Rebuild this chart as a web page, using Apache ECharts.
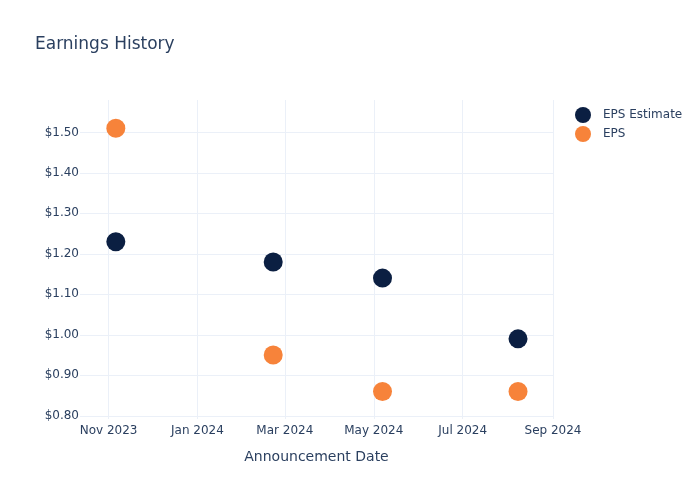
<!DOCTYPE html>
<html>
<head>
<meta charset="utf-8">
<script src="https://cdn.jsdelivr.net/npm/echarts@6/dist/echarts.min.js"></script>
<style>html,body{margin:0;padding:0;background:#fff}#c{width:700px;height:500px}</style>
</head>
<body>
<div id="c"></div>
<script>
var announcementDates = ['2023-11-06', '2024-02-22', '2024-05-07', '2024-08-08'];
var epsEstimate = [1.23, 1.18, 1.14, 0.99];
var epsActual = [1.51, 0.95, 0.86, 0.86];
var xTickDates = ['2023-11-01', '2024-01-01', '2024-03-01', '2024-05-01', '2024-07-01', '2024-09-01'];
var yTickValues = [0.8, 0.9, 1.0, 1.1, 1.2, 1.3, 1.4, 1.5];
var monthNames = ['Jan','Feb','Mar','Apr','May','Jun','Jul','Aug','Sep','Oct','Nov','Dec'];

function ts(s) { var p = s.split('-'); return Date.UTC(+p[0], +p[1] - 1, +p[2]); }
var xTicks = xTickDates.map(ts);
var FONT = 'DejaVu Sans';
var TXT = '#2a3f5f';
var GRIDC = '#EBF0F8';

var chart = echarts.init(document.getElementById('c'));
chart.setOption({
  animation: false,
  backgroundColor: '#fff',
  textStyle: { fontFamily: FONT },
  title: {
    text: 'Earnings History', left: 30, top: 31,
    textStyle: { fontFamily: FONT, fontSize: 17, fontWeight: 'normal', color: TXT }
  },
  legend: {
    orient: 'vertical', left: 570, top: 102, itemWidth: 30, itemHeight: 16, itemGap: 3,
    icon: 'circle',
    textStyle: { fontFamily: FONT, fontSize: 12, color: TXT },
    data: ['EPS Estimate', 'EPS']
  },
  grid: { left: 80, right: 147, top: 100, bottom: 81, containLabel: false },
  xAxis: {
    type: 'value',
    min: ts('2023-10-12') + 10 * 3600e3,
    max: ts('2024-09-01'),
    name: 'Announcement Date', nameLocation: 'middle', nameGap: 31,
    nameTextStyle: { fontFamily: FONT, fontSize: 14, color: TXT },
    axisLine: { show: false },
    axisTick: { show: false, customValues: xTicks },
    axisLabel: {
      customValues: xTicks, margin: 6,
      fontFamily: FONT, fontSize: 12, color: TXT,
      formatter: function (v) { var d = new Date(v); return monthNames[d.getUTCMonth()] + ' ' + d.getUTCFullYear(); }
    },
    splitLine: { show: true, lineStyle: { color: GRIDC, width: 1 } }
  },
  yAxis: {
    type: 'value', min: 0.792, max: 1.58,
    axisLine: { show: false },
    axisTick: { show: false, customValues: yTickValues },
    axisLabel: {
      customValues: yTickValues, margin: 1,
      fontFamily: FONT, fontSize: 12, color: TXT,
      formatter: function (v) { return '$' + v.toFixed(2); }
    },
    splitLine: { show: true, lineStyle: { color: GRIDC, width: 1 } }
  },
  series: [
    {
      name: 'EPS Estimate', type: 'scatter', symbolSize: 19,
      itemStyle: { color: '#0b1f42', opacity: 1 },
      data: announcementDates.map(function (d, i) { return [ts(d), epsEstimate[i]]; })
    },
    {
      name: 'EPS', type: 'scatter', symbolSize: 19,
      itemStyle: { color: '#f7833a', opacity: 1 },
      data: announcementDates.map(function (d, i) { return [ts(d), epsActual[i]]; })
    }
  ]
});
</script>
</body>
</html>
